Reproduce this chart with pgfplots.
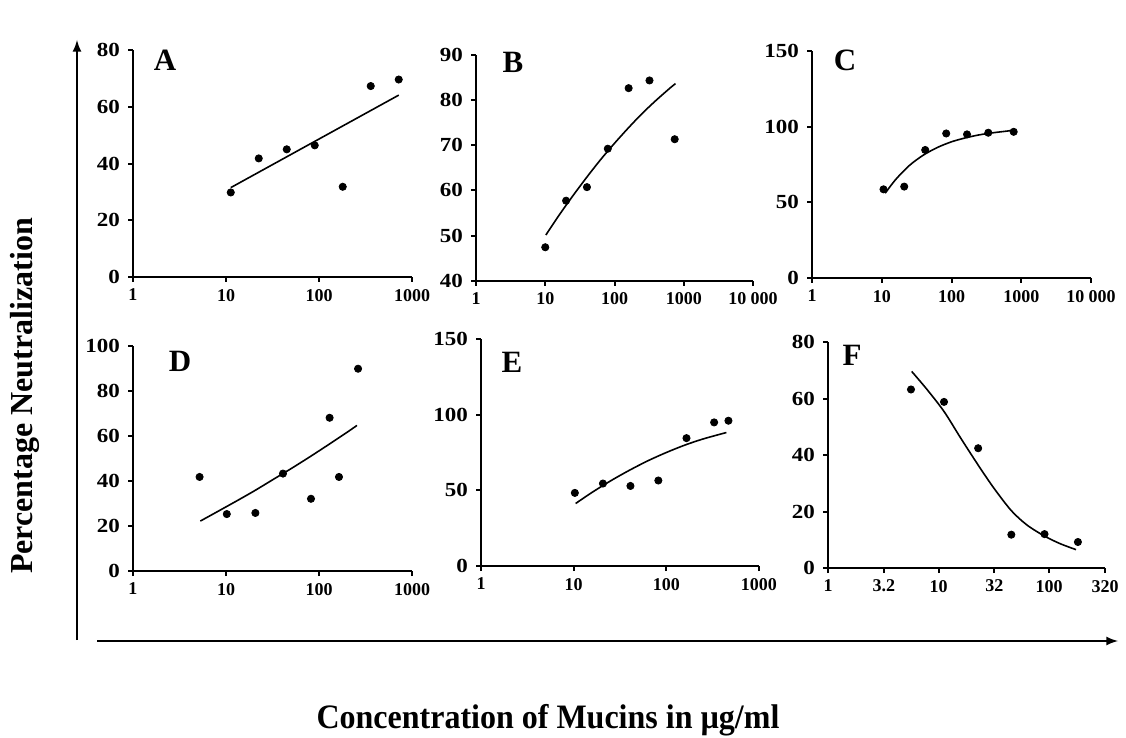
\documentclass[border=0pt]{standalone}
\usepackage{fontspec}
\setmainfont{Liberation Serif}
\usepackage{pgfplots}
\pgfplotsset{compat=1.18}

% one reference pixel = 0.5pt
\pgfplotsset{
  scale only axis,
  axis lines*=left,
  axis line style={line width=1pt},
  tick style={black, line width=1pt},
  tick align=outside,
  major tick length=2.5pt,
  xminorticks=false,
  xticklabel style={font=\bfseries\fontsize{9}{10}\selectfont},
  yticklabel style={font=\bfseries\fontsize{10}{11}\selectfont, xscale=1.15},
  /pgf/number format/assume math mode=true,
  clip=false,
}
\tikzset{
  mydots/.style={only marks, mark=*, mark size=1.8pt, black},
  myfit/.style={black, line width=0.8pt, smooth, no marks},
}

\begin{document}
\begin{tikzpicture}
\path[use as bounding box] (0,0) rectangle (563pt,-369pt);

% A
\begin{semilogxaxis}[anchor=south west, at={(66.5pt,-138.5pt)}, width=139.5pt, height=113.5pt,
  xmin=1, xmax=1000, ymin=0, ymax=80,
  xtick={1,10,100,1000}, xticklabels={1,10,100,1000}, ytick={0,20,40,60,80}]
\addplot[mydots] coordinates {(11.25,29.8) (22.5,41.8) (45,45) (90,46.4) (180,31.8) (360,67.3) (720,69.6)};
\addplot[myfit] coordinates {(11.25,31.5) (720,64.1)};
\end{semilogxaxis}

% B
\begin{semilogxaxis}[anchor=south west, at={(238pt,-140.35pt)}, width=138.5pt, height=113pt,
  xmin=1, xmax=10000, ymin=40, ymax=90,
  xtick={1,10,100,1000,10000}, xticklabels={1,10,100,1000,10 000}, ytick={40,50,60,70,80,90}]
\addplot[mydots] coordinates {(10,47.4) (20,57.7) (40,60.7) (80,69.2) (160,82.6) (320,84.3) (740,71.3)};
\addplot[myfit] coordinates {(10.2,50.1) (15.85,54.5) (25.1,58.8) (39.8,62.9) (63.1,66.8) (100,70.4) (158.5,73.8) (251,77.0) (398,79.9) (631,82.6) (759,83.6)};
\end{semilogxaxis}

% C
\begin{semilogxaxis}[anchor=south west, at={(406pt,-139pt)}, width=139.5pt, height=113.5pt,
  xmin=1, xmax=10000, ymin=0, ymax=150,
  xtick={1,10,100,1000,10000}, xticklabels={1,10,100,1000,10 000}, ytick={0,50,100,150}]
\addplot[mydots] coordinates {(10.6,58.6) (21,60.4) (42,84.6) (84,95.5) (167,94.9) (337,96.0) (779,96.6)};
\addplot[myfit] coordinates {(11.2,56.0) (15.85,65.1) (25.1,74.5) (39.8,81.3) (63.1,86.3) (100,90.0) (158.5,92.6) (251,94.6) (398,96.0) (631,97.1) (794,97.8)};
\end{semilogxaxis}

% D
\begin{semilogxaxis}[anchor=south west, at={(66.5pt,-285.5pt)}, width=139.5pt, height=112.5pt,
  xmin=1, xmax=1000, ymin=0, ymax=100,
  xtick={1,10,100,1000}, xticklabels={1,10,100,1000}, ytick={0,20,40,60,80,100}]
\addplot[mydots] coordinates {(5.2,41.8) (10.2,25.3) (20.7,25.8) (41,43.3) (82,32.1) (130,68.1) (164,41.8) (263,89.9)};
\addplot[myfit] coordinates {(5.3,22.2) (7.94,26.2) (12.59,30.8) (19.95,35.5) (31.6,40.5) (50.1,45.5) (79.4,50.7) (125.9,56.1) (199.5,61.6) (256,64.7)};
\end{semilogxaxis}

% E
\begin{semilogxaxis}[anchor=south west, at={(240.5pt,-283pt)}, width=139pt, height=113.5pt,
  xmin=1, xmax=1000, ymin=0, ymax=150,
  xtick={1,10,100,1000}, xticklabels={1,10,100,1000}, ytick={0,50,100,150}]
\addplot[mydots] coordinates {(10.3,48.3) (20.7,54.5) (41,52.9) (82,56.5) (165,84.5) (328,94.9) (468,96.0)};
\addplot[myfit] coordinates {(10.5,41.3) (15.85,48.7) (25.1,56.3) (39.8,63.2) (63.1,69.5) (100,75.0) (158.5,79.9) (251,84.0) (445,88.2)};
\end{semilogxaxis}

% F
\begin{semilogxaxis}[anchor=south west, at={(414pt,-284pt)}, width=138.5pt, height=113pt,
  xmin=1, xmax=320, ymin=0, ymax=80,
  xtick={1,3.2,10,32,100,320}, xticklabels={1,3.2,10,32,100,320}, ytick={0,20,40,60,80}]
\addplot[mydots] coordinates {(5.63,63.2) (11.2,58.8) (22.8,42.4) (45.5,11.8) (90.8,12.0) (182,9.2)};
\addplot[myfit] coordinates {(5.71,69.6) (7.94,63.0) (11.25,55.3) (15.85,46.0) (22.75,36.5) (31.6,28.3) (45.5,20.3) (63.1,15.2) (90.8,11.3) (125.9,8.6) (175,6.5)};
\end{semilogxaxis}

% panel letters
\begin{scope}[every node/.style={font=\bfseries\fontsize{15.5}{16}\selectfont}]
\node at (82.5pt,-30pt) {A};
\node at (256.5pt,-31pt) {B};
\node at (422.5pt,-30pt) {C};
\node at (90pt,-180.5pt) {D};
\node at (256pt,-181pt) {E};
\node at (426pt,-177.5pt) {F};
\end{scope}

% overall axes arrows
\draw[line width=1pt, -latex] (38.5pt,-320pt) -- (38.5pt,-20pt);
\draw[line width=1pt, -latex] (48.5pt,-320.5pt) -- (559pt,-320.5pt);

\node[rotate=90, font=\bfseries\fontsize{16}{18}\selectfont] at (12.5pt,-198pt) {Percentage Neutralization};
\node[font=\bfseries\fontsize{16}{18}\selectfont, yscale=1.07] at (274pt,-360pt) {Concentration of Mucins in µg/ml};
\end{tikzpicture}
\end{document}
